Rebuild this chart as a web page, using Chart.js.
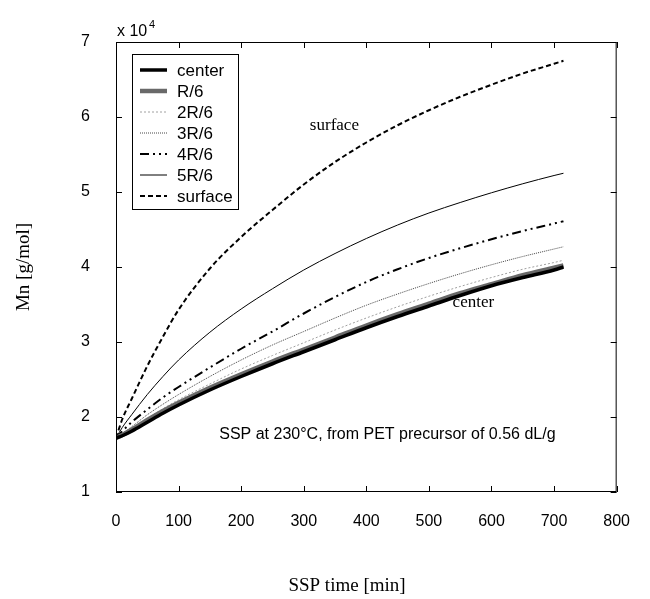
<!DOCTYPE html>
<html>
<head>
<meta charset="utf-8">
<script src="https://cdn.jsdelivr.net/npm/chart.js@4.4.0/dist/chart.umd.min.js"></script>
<style>
  html, body { margin: 0; padding: 0; background: #fff; }
  #wrap { width: 650px; height: 599px; }
</style>
</head>
<body>
<div id="wrap"><canvas id="myChart" width="650" height="599"></canvas></div>
<script>
// SSP time [min]
const time = [0, 10, 25, 50, 75, 100, 150, 200, 250, 300, 350, 400, 450, 500, 550, 600, 650, 700, 715]

// Mn (x 10^4 g/mol) at each radial position
const center  = [1.72, 1.75, 1.81, 1.93, 2.05, 2.16, 2.36, 2.54, 2.71, 2.87, 3.03, 3.19, 3.34, 3.48, 3.62, 3.75, 3.86, 3.96, 4.00]
const r1      = [1.72, 1.76, 1.83, 1.96, 2.08, 2.19, 2.39, 2.57, 2.74, 2.90, 3.06, 3.22, 3.37, 3.51, 3.65, 3.77, 3.89, 3.99, 4.02]
const r2      = [1.72, 1.76, 1.84, 1.98, 2.11, 2.23, 2.44, 2.64, 2.82, 2.99, 3.16, 3.32, 3.47, 3.61, 3.74, 3.86, 3.97, 4.06, 4.09]
const r3      = [1.72, 1.78, 1.87, 2.03, 2.17, 2.30, 2.54, 2.76, 2.96, 3.14, 3.32, 3.49, 3.64, 3.78, 3.91, 4.03, 4.14, 4.24, 4.27]
const r4      = [1.72, 1.81, 1.93, 2.10, 2.26, 2.40, 2.66, 2.91, 3.14, 3.38, 3.60, 3.80, 3.97, 4.12, 4.25, 4.37, 4.48, 4.58, 4.61]
const r5      = [1.72, 1.86, 2.03, 2.30, 2.54, 2.76, 3.13, 3.44, 3.71, 3.96, 4.18, 4.38, 4.56, 4.72, 4.86, 4.99, 5.11, 5.22, 5.25]
const surface = [1.72, 1.97, 2.24, 2.68, 3.07, 3.43, 3.98, 4.40, 4.76, 5.10, 5.40, 5.66, 5.89, 6.09, 6.27, 6.43, 6.58, 6.71, 6.75]

const xTicks = [0, 100, 200, 300, 400, 500, 600, 700, 800]
const yTicks = [1, 2, 3, 4, 5, 6, 7]

const pts = (ys) => time.map((t, i) => ({x: t, y: ys[i]}))

const sans = '"Liberation Sans", Arial, Helvetica, sans-serif'
const serif = '"Liberation Serif", "Times New Roman", Times, serif'

const data = {
    datasets: [{
        label: 'center',
        data: pts(center),
        borderColor: '#000',
        borderWidth: 3.5
    },{
        label: 'R/6',
        data: pts(r1),
        borderColor: 'rgb(105,105,105)',
        borderWidth: 4.5
    },{
        label: '2R/6',
        data: pts(r2),
        borderColor: 'rgb(160,160,160)',
        borderWidth: 1,
        borderDash: [2, 2]
    },{
        label: '3R/6',
        data: pts(r3),
        borderColor: 'rgb(70,70,70)',
        borderWidth: 1,
        borderDash: [1, 1]
    },{
        label: '4R/6',
        data: pts(r4),
        borderColor: '#000',
        borderWidth: 2,
        borderDash: [9, 4, 2, 4, 2, 4]
    },{
        label: '5R/6',
        data: pts(r5),
        borderColor: '#000',
        borderWidth: 1
    },{
        label: 'surface',
        data: pts(surface),
        borderColor: '#000',
        borderWidth: 2,
        borderDash: [5, 3]
    }]
}

// frame, inward ticks, legend box and the text notes
const decor = {
    id: 'decor',
    afterDraw(chart) {
        const c = chart.ctx
        const a = chart.chartArea
        const xs = chart.scales.x, ys = chart.scales.y
        c.save()
        c.strokeStyle = '#000'
        c.lineWidth = 1
        c.strokeRect(a.left + 0.5, a.top + 0.5, a.right - a.left - 1, a.bottom - a.top - 1)
        c.beginPath()
        xTicks.forEach(v => {
            const px = Math.round(xs.getPixelForValue(v)) + 0.5
            c.moveTo(px, a.bottom); c.lineTo(px, a.bottom - 6)
            c.moveTo(px, a.top); c.lineTo(px, a.top + 6)
        })
        yTicks.forEach(v => {
            const py = Math.round(ys.getPixelForValue(v)) + 0.5
            c.moveTo(a.left, py); c.lineTo(a.left + 6, py)
            c.moveTo(a.right, py); c.lineTo(a.right - 6, py)
        })
        c.stroke()

        // legend
        const lx = a.left + 16, ly = a.top + 12
        const lw = 106, lh = 155
        c.fillStyle = '#fff'
        c.fillRect(lx, ly, lw, lh)
        c.strokeRect(lx + 0.5, ly + 0.5, lw, lh)
        c.font = '17px ' + sans
        c.textBaseline = 'middle'
        c.textAlign = 'left'
        chart.data.datasets.forEach((ds, i) => {
            const y = ly + 16 + i * 21
            c.beginPath()
            c.strokeStyle = ds.borderColor
            c.lineWidth = ds.borderWidth
            c.setLineDash(ds.borderDash || [])
            c.moveTo(lx + 8, y); c.lineTo(lx + 35, y)
            c.stroke()
            c.setLineDash([])
            c.fillStyle = '#000'
            c.fillText(ds.label, lx + 45, y + 1)
        })

        // exponent above the y axis
        c.fillStyle = '#000'
        c.font = '16px ' + sans
        c.textBaseline = 'alphabetic'
        c.fillText('x 10', a.left + 1, a.top - 6)
        c.font = '11px ' + sans
        c.fillText('4', a.left + 33, a.top - 14)

        // notes
        c.font = '16px ' + sans
        c.textBaseline = 'middle'
        c.fillText('SSP at 230°C, from PET precursor of 0.56 dL/g', xs.getPixelForValue(165), ys.getPixelForValue(1.76))
        c.font = '17px ' + serif
        c.textAlign = 'center'
        c.fillText('surface', xs.getPixelForValue(349), ys.getPixelForValue(5.88))
        c.fillText('center', xs.getPixelForValue(571), ys.getPixelForValue(3.52))

        // axis titles
        c.font = '19px ' + serif
        c.fillText('SSP time [min]', 347, 586)
        c.translate(24, (a.top + a.bottom) / 2)
        c.rotate(-Math.PI / 2)
        c.fillText('Mn [g/mol]', 0, 0)
        c.restore()
    }
}

const config = {
    type: 'line',
    data: data,
    options: {
        responsive: false,
        animation: false,
        cubicInterpolationMode: 'monotone',
        elements: { point: { radius: 0 }, line: { fill: false } },
        layout: { padding: { top: 42, right: 20, left: 0, bottom: 0 } },
        plugins: { legend: { display: false }, tooltip: { enabled: false } },
        scales: {
            x: {
                type: 'linear',
                min: 0, max: 800,
                afterFit: (s) => { s.height = 107 },
                afterBuildTicks: (s) => { s.ticks = xTicks.map(v => ({value: v})) },
                grid: { display: false, drawTicks: false },
                border: { display: false },
                ticks: { color: '#000', font: { size: 16, family: sans }, padding: 20, maxRotation: 0 }
            },
            y: {
                type: 'linear',
                min: 1, max: 7,
                afterFit: (s) => { s.width = 116 },
                afterBuildTicks: (s) => { s.ticks = yTicks.map(v => ({value: v})) },
                grid: { display: false, drawTicks: false },
                border: { display: false },
                ticks: { color: '#000', font: { size: 16, family: sans }, padding: 26 }
            }
        }
    },
    plugins: [decor]
}

const chart = new Chart(document.getElementById('myChart'), config)
</script>
</body>
</html>
